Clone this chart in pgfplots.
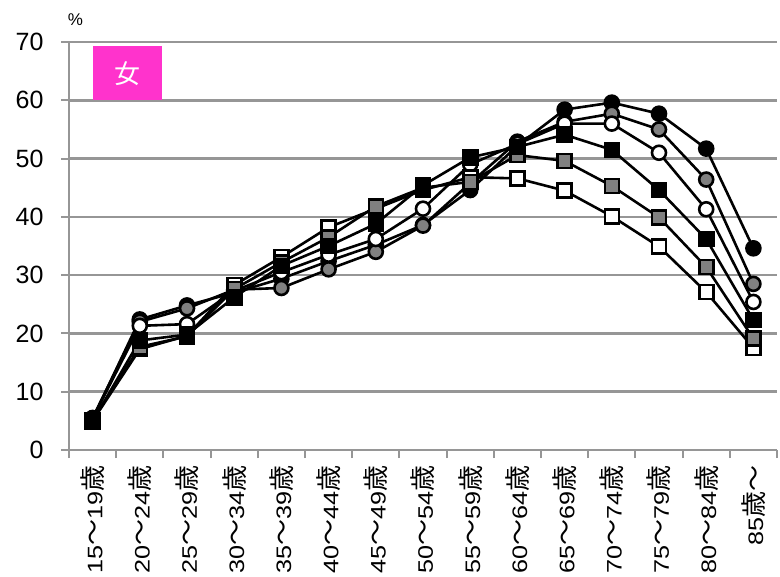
\documentclass[border=0pt]{standalone}
\usepackage{fontspec}
\setmainfont{Liberation Sans}
\newfontfamily\cjk{Noto Sans CJK JP}
\newfontfamily\xlab[FakeStretch=1.2]{Liberation Sans}
\usepackage{pgfplots}
\pgfplotsset{compat=1.18}
\definecolor{gridgray}{RGB}{150,150,150}
\definecolor{mgray}{RGB}{128,128,128}
\definecolor{pinkbox}{RGB}{255,51,204}
\newcommand{\cj}[1]{{\cjk\fontsize{26bp}{26bp}\selectfont #1}}
\newcommand{\lab}[2]{{\xlab #1}\cj{～}{\xlab #2}\cj{歳}}

\pgfplotstableread{
x A B C D E F
0 5.3 5.5 5.4 4.9 5.1 5.0
1 22.4 22.0 21.3 18.8 17.7 17.3
2 24.8 24.3 21.6 19.8 19.5 19.6
3 27.0 27.5 27.3 26.2 27.6 28.3
4 29.4 27.8 30.5 31.6 32.2 33.1
5 32.4 31.0 33.5 35.0 36.5 38.2
6 35.2 34.0 36.2 38.8 41.8 41.4
7 38.6 38.5 41.4 45.4 45.0 44.6
8 44.6 45.8 49.0 50.2 46.0 46.8
9 52.2 52.9 52.5 52.0 50.6 46.6
10 58.4 56.3 56.0 54.1 49.6 44.5
11 59.6 57.7 56.0 51.5 45.3 40.1
12 57.7 55.0 51.0 44.6 39.9 34.9
13 51.7 46.4 41.3 36.2 31.4 27.1
14 34.6 28.5 25.4 22.3 19.1 17.5
}\datatable

\begin{document}
\begin{tikzpicture}
\begin{axis}[
  at={(0,0)}, anchor=south west,
  scale only axis, width=708bp, height=408bp,
  xmin=-0.5, xmax=14.5, ymin=0, ymax=70,
  xtick={-0.5,0.5,...,14.5},
  x tick label as interval,
  xticklabels={{\lab{15}{19}},{\lab{20}{24}},{\lab{25}{29}},{\lab{30}{34}},{\lab{35}{39}},{\lab{40}{44}},{\lab{45}{49}},{\lab{50}{54}},{\lab{55}{59}},{\lab{60}{64}},{\lab{65}{69}},{\lab{70}{74}},{\lab{75}{79}},{\lab{80}{84}},{{\xlab 85}\cj{歳～}}},
  ytick={0,10,...,70},
  ymajorgrids,
  grid style={gridgray, line width=2.5bp},
  axis x line*=bottom, axis y line*=left,
  axis line style={gridgray, line width=2.5bp, -},
  tick style={gridgray, line width=2bp},
  major tick length=8bp, tick align=outside,
  /pgf/number format/assume math mode=true,
  yticklabel style={font=\fontsize{25bp}{25bp}\selectfont, anchor=east, xshift=-14bp},
  xticklabel style={font=\fontsize{21bp}{21bp}\selectfont, yshift=-4bp, rotate=90, anchor=east},
  clip=false,
  every axis plot/.append style={line width=2.6bp, black},
  mark options={solid, line width=1.3bp, draw=black},
]
\addplot[mark=*, mark size=7bp, mark options={fill=black}] table[x=x,y=A] {\datatable};
\addplot[mark=*, mark size=7bp, mark options={fill=mgray}] table[x=x,y=B] {\datatable};
\addplot[mark=*, mark size=7bp, mark options={fill=white}] table[x=x,y=C] {\datatable};
\addplot[mark=square*, mark size=7bp, mark options={fill=white}] table[x=x,y=F] {\datatable};
\addplot[mark=square*, mark size=7bp, mark options={fill=mgray}] table[x=x,y=E] {\datatable};
\addplot[mark=square*, mark size=7bp, mark options={fill=black}] table[x=x,y=D] {\datatable};
\fill[pinkbox] (axis cs:0,60) rectangle (axis cs:1.47,69.3);
\node[text=white, font={\cjk\fontsize{26bp}{26bp}\selectfont}] at (axis cs:0.735,64.6) {女};
\node[font=\fontsize{17bp}{17bp}\selectfont] at (rel axis cs:0,1) [xshift=6.5bp, yshift=22.5bp] {\%};
\end{axis}
\pgfresetboundingbox
\path[use as bounding box] (-69bp,-127bp) rectangle (711bp,450bp);
\end{tikzpicture}
\end{document}
